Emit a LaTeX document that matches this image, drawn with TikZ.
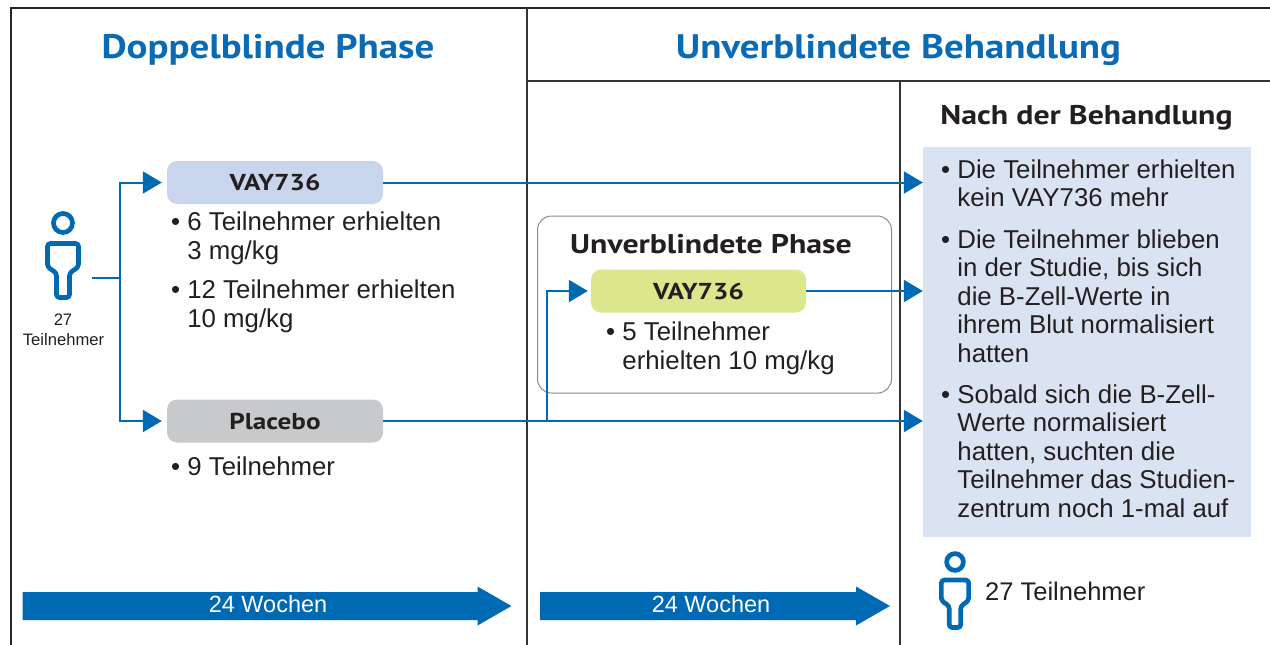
\documentclass[tikz,border=0pt]{standalone}
\usepackage{fontspec}
\setmainfont{Liberation Sans}
\newfontfamily\hdfont{PT Sans}[FakeStretch=1.18]
\newfontfamily\ttlfont{PT Sans}[FakeStretch=1.145]
\usetikzlibrary{arrows.meta}
\definecolor{mblue}{HTML}{0069B4}
\definecolor{tblue}{HTML}{0A6AB3}
\definecolor{txt}{HTML}{231F20}
\definecolor{vayfill}{HTML}{C9D5EC}
\definecolor{plfill}{HTML}{C8C9CB}
\definecolor{grfill}{HTML}{DCE68C}
\definecolor{nbfill}{HTML}{DAE3F1}
\newcommand\ind{\phantom{• }}
\tikzset{
  body/.style={font=\fontsize{25.8}{30}\selectfont, text=txt, inner sep=0pt, anchor=base west},
  title/.style={font=\ttlfont\bfseries\fontsize{34}{36}\selectfont, text=tblue, inner sep=0pt, anchor=base},
  subtitle/.style={font=\hdfont\bfseries\fontsize{27}{30}\selectfont, text=txt, inner sep=0pt, anchor=base},
  drugbox/.style={rounded corners=10pt, minimum width=216pt, minimum height=43pt, inner sep=0pt,
    font=\hdfont\bfseries\fontsize{23}{25}\selectfont, text=txt},
  conn/.style={draw=mblue, line width=2pt},
  arr/.style={conn, -{Triangle[length=19pt,width=22pt]}},
  divider/.style={draw=black!80, line width=1.2pt},
  weeks/.style={font=\fontsize{23.5}{26}\selectfont, text=white, inner sep=0pt, anchor=base},
  person/.pic={
    \draw[mblue, line width=4.7pt] (0,0) circle (9.5);
    \draw[mblue, line width=4.7pt, line join=round, rounded corners=3pt]
      (0,20.5) -- (15.5,20.5) -- (15.5,44) -- (6.5,50) -- (6.5,74.5) -- (-6.5,74.5)
      -- (-6.5,50) -- (-15.5,44) -- (-15.5,20.5) -- cycle;
  }
}
\begin{document}
\begin{tikzpicture}[x=1pt,y=-1pt]
\useasboundingbox (0,0) rectangle (1270,645);
\fill[white] (0,0) rectangle (1270,645);
% frame and dividers
\draw[draw=black!85, line width=2pt] (11,645) -- (11,8) -- (1270,8);
\draw[divider] (527,8) -- (527,645);
\draw[divider] (527,81) -- (1270,81);
\draw[divider] (900,81) -- (900,645);
% titles
\node[title] (t1) at (268,58) {Doppelblinde Phase};
\node[title] (t2) at (898.5,58) {Unverblindete Behandlung};
\node[subtitle] (t3) at (1086.5,124) {Nach der Behandlung};
% after-treatment box
\node[fill=nbfill, minimum width=328pt, minimum height=390pt, inner sep=0pt] (nb) at (1087,342) {};
% open-label phase box
\node[draw=black!45, line width=1pt, rounded corners=14pt, minimum width=354pt, minimum height=177pt, inner sep=0pt] (ubox) at (714.5,304.5) {};
\node[subtitle] (ut) at (711,253) {Unverblindete Phase};
% drug boxes
\node[drugbox, fill=vayfill] (vay) at (275,182.5) {VAY736};
\node[drugbox, fill=plfill] (pla) at (275,421) {Placebo};
\node[drugbox, fill=grfill, minimum width=215pt] (vay2) at (698.5,291) {VAY736};
% person icons
\pic at (63,223) {person};
\pic[scale=0.88] at (955,562) {person};
\node[font=\fontsize{16.6}{18}\selectfont, text=txt, inner sep=0pt, anchor=base] (n27) at (63,325.7) {27};
\node[font=\fontsize{16.6}{18}\selectfont, text=txt, inner sep=0pt, anchor=base] (n27b) at (63.5,345) {Teilnehmer};
\node[body, font=\fontsize{25.5}{30}\selectfont] (n27r) at (985,600.7) {27 Teilnehmer};
% connectors
\coordinate (p1) at (92,278);
\coordinate (fork) at (120,278);
\draw[conn] (p1) -- (fork);
\draw[arr, shorten >=5pt] (fork) |- (vay.west);
\draw[arr, shorten >=5pt] (fork) |- (pla.west);
\draw[arr] (vay.east) -- (vay.east -| nb.west);
\draw[arr] (pla.east) -- (pla.east -| nb.west);
\draw[arr] (vay2.east) -- (vay2.east -| nb.west);
\coordinate (br) at (547,421);
\draw[arr, shorten >=3pt] (br) |- (vay2.west);
% left texts
\node[body] (l1) at (171,230) {• 6 Teilnehmer erhielten};
\node[body] (l2) at (171,259) {\ind 3 mg/kg};
\node[body] (l3) at (171,298) {• 12 Teilnehmer erhielten};
\node[body] (l4) at (171,327) {\ind 10 mg/kg};
\node[body] (l5) at (171,475) {• 9 Teilnehmer};
% middle texts
\node[body] (m1) at (606,340) {• 5 Teilnehmer};
\node[body] (m2) at (606,369) {\ind erhielten 10 mg/kg};
% right texts
\foreach \yy/\linetext [count=\i] in {
  178/{• Die Teilnehmer erhielten},
  206.5/{\ind kein VAY736 mehr},
  248/{• Die Teilnehmer blieben},
  276.5/{\ind in der Studie, bis sich},
  305/{\ind die B-Zell-Werte in},
  333.5/{\ind ihrem Blut normalisiert},
  362/{\ind hatten},
  403/{• Sobald sich die B-Zell-},
  431.5/{\ind Werte normalisiert},
  460/{\ind hatten, suchten die},
  488.5/{\ind Teilnehmer das Studien-},
  517/{\ind zentrum noch 1-mal auf}}
  \node[body] (r\i) at (941,\yy) {\linetext};
% week arrows
\fill[mblue] (22.5,592) -- (477.5,592) -- (477.5,586.5) -- (511.5,606) -- (477.5,625.5) -- (477.5,620) -- (22.5,620) -- cycle;
\node[weeks] (w1) at (268,612.7) {24 Wochen};
\fill[mblue] (540,592) -- (856,592) -- (856,586.5) -- (890,606) -- (856,625.5) -- (856,620) -- (540,620) -- cycle;
\node[weeks] (w2) at (711,612.7) {24 Wochen};
\end{tikzpicture}
\end{document}
